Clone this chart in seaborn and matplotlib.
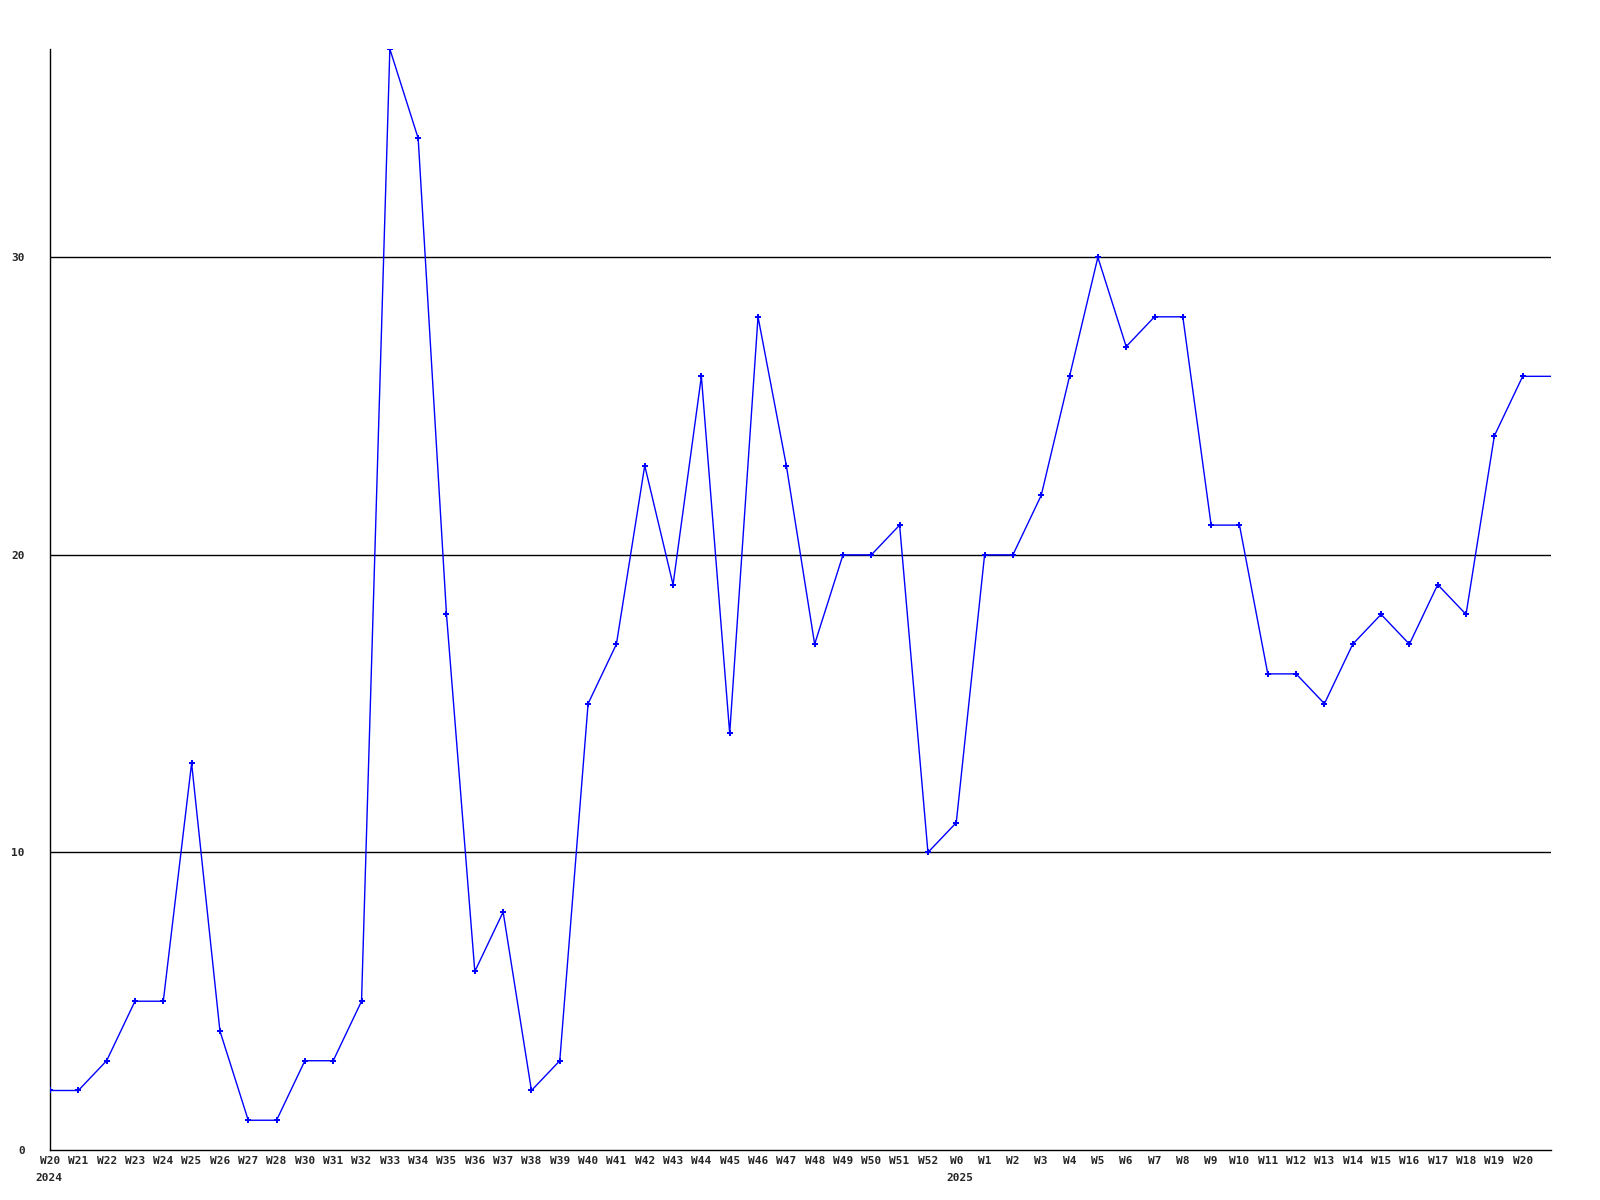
import matplotlib
matplotlib.use("Agg")
import matplotlib.pyplot as plt
import matplotlib.transforms as mtrans
import seaborn as sns
import pandas as pd

weeks = ["W20", "W21", "W22", "W23", "W24", "W25", "W26", "W27", "W28",
         "W30", "W31", "W32", "W33", "W34", "W35", "W36", "W37", "W38", "W39",
         "W40", "W41", "W42", "W43", "W44", "W45", "W46", "W47", "W48", "W49",
         "W50", "W51", "W52", "W0", "W1", "W2", "W3", "W4", "W5", "W6", "W7",
         "W8", "W9", "W10", "W11", "W12", "W13", "W14", "W15", "W16", "W17",
         "W18", "W19", "W20", ""]
values = [2, 2, 3, 5, 5, 13, 4, 1, 1,
          3, 3, 5, 37, 34, 18, 6, 8, 2, 3,
          15, 17, 23, 19, 26, 14, 28, 23, 17, 20,
          20, 21, 10, 11, 20, 20, 22, 26, 30, 27, 28,
          28, 21, 21, 16, 16, 15, 17, 18, 17, 19,
          18, 24, 26, 26]
year_labels = {"2024": 0, "2025": 32}
y_ticks = [0, 10, 20, 30]

sns.set_style("white")
plt.rcParams["font.family"] = ["DejaVu Sans Mono", "DejaVu Sans"]

df = pd.DataFrame({"pos": range(len(values)), "val": values})

fig = plt.figure(figsize=(16, 12), dpi=100)
ax = fig.add_axes([50 / 1600, 1 - 1150 / 1200, 1501 / 1600, 1101 / 1200])

for t in y_ticks[1:]:
    ax.axhline(t, color="black", lw=1, zorder=1)

sns.lineplot(data=df, x="pos", y="val", ax=ax, color="#0000ff", lw=1,
             marker="P", markersize=4, markeredgewidth=0,
             markevery=list(range(len(values) - 1)), zorder=3)

ax.set_xlim(0, len(values) - 1)
ax.set_ylim(0, 37)
ax.set_xticks(range(len(values) - 1))
ax.set_xticklabels(weeks[:-1], fontsize=8, fontweight="bold")
ax.set_yticks(y_ticks)
ax.set_yticklabels([str(t) for t in y_ticks], fontsize=8, fontweight="bold")
ax.tick_params(axis="x", length=0, pad=4)
ax.tick_params(axis="y", length=0, pad=18)
ax.set_xlabel("")
ax.set_ylabel("")

for sp in ["top", "right"]:
    ax.spines[sp].set_visible(False)
for sp in ["left", "bottom"]:
    ax.spines[sp].set_color("black")
    ax.spines[sp].set_linewidth(1)

base = ax.get_xaxis_transform()
for yr, pos in year_labels.items():
    n = len(weeks[pos])
    off = mtrans.offset_copy(base, fig=fig, x=-n * 3.6, y=0, units="points")
    ax.text(pos, -0.021, yr, transform=off,
            ha="left", va="top", fontsize=8, fontweight="bold")

fig.savefig("out.png", dpi=100)
